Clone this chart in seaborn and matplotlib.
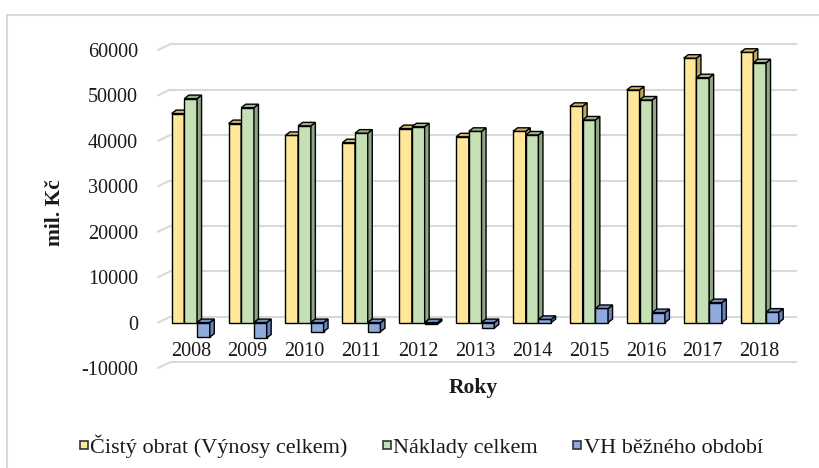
import matplotlib
matplotlib.use("Agg")
import matplotlib.pyplot as plt
from matplotlib.patches import Polygon, Rectangle
from matplotlib.lines import Line2D
import numpy as np
import pandas as pd
import seaborn as sns

# Data (mil. Kč)
years = ["2008", "2009", "2010", "2011", "2012", "2013", "2014", "2015", "2016", "2017", "2018"]
cisty_obrat = [46000, 43800, 41200, 39600, 42700, 40900, 42100, 47600, 51200, 58200, 59500]
naklady = [49300, 47300, 43300, 41700, 43100, 42100, 41300, 44600, 49000, 53900, 57200]
vh_obdobi = [-3200, -3400, -2000, -2000, -400, -1200, 700, 3100, 2200, 4400, 2300]

series_names = ["Čistý obrat (Výnosy celkem)", "Náklady celkem", "VH běžného období"]
y_ticks = [-10000, 0, 10000, 20000, 30000, 40000, 50000, 60000]

front_colors = ["#FFE699", "#C5E0B4", "#8FAADC"]
side_colors = ["#BFA95C", "#8FA683", "#6684BD"]
top_colors = ["#CDB66A", "#9DB58F", "#7391C9"]

df = pd.DataFrame({
    "Rok": years * 3,
    "Hodnota": cisty_obrat + naklady + vh_obdobi,
    "Řada": [series_names[0]] * len(years) + [series_names[1]] * len(years) + [series_names[2]] * len(years),
})

sns.set_theme(style="white")
plt.rcParams["font.family"] = ["Liberation Serif", "DejaVu Serif"]

W, H, DPI = 820, 468, 100
fig = plt.figure(figsize=(W / DPI, H / DPI), dpi=DPI)

# axes placed in pixel terms (front plane of the 3D box)
ax_l, ax_r, ax_t, ax_b = 158, 785, 50, 368
ax = fig.add_axes([ax_l / W, (H - ax_b) / H, (ax_r - ax_l) / W, (ax_b - ax_t) / H])

# outer chart frame
fig.patches.append(Rectangle((7 / W, -0.1), 1.2, (H - 15) / H + 0.1, transform=fig.transFigure,
                             fill=False, edgecolor="#D9D9D9", linewidth=1.5))

sns.barplot(data=df, x="Rok", y="Hodnota", hue="Řada", palette=front_colors, saturation=1,
            width=0.67, gap=0, edgecolor="black", linewidth=1.0, ax=ax, legend=False)

xlim = (-0.575, 10.445)
ylim = (-10000, 60000)
ax.set_xlim(*xlim)
ax.set_ylim(*ylim)

px_x = (ax_r - ax_l) / (xlim[1] - xlim[0])
px_y = (ax_b - ax_t) / (ylim[1] - ylim[0])

# back wall gridlines with depth offset
wall_dx, wall_dy = 12 / px_x, 5.7 / px_y
for yv in y_ticks:
    ax.plot([xlim[0] + wall_dx, xlim[1] + wall_dx], [yv + wall_dy, yv + wall_dy],
            color="#D9D9D9", linewidth=1.5, zorder=0.5, clip_on=False, solid_capstyle="butt")
    ax.plot([xlim[0], xlim[0] + wall_dx], [yv, yv + wall_dy],
            color="#D9D9D9", linewidth=1.5, zorder=0.5, clip_on=False)

# 3D side and top faces of each bar
bar_dx, bar_dy = 4.5 / px_x, 3.5 / px_y
for i, cont in enumerate(ax.containers):
    for rect in cont.patches:
        rect.set_zorder(2 + i)
        rect.set_clip_on(False)
        x0, w = rect.get_x(), rect.get_width()
        y0, h = rect.get_y(), rect.get_height()
        top, bot = max(y0, y0 + h), min(y0, y0 + h)
        side = Polygon([(x0 + w, bot), (x0 + w + bar_dx, bot + bar_dy),
                        (x0 + w + bar_dx, top + bar_dy), (x0 + w, top)],
                       closed=True, facecolor=side_colors[i], edgecolor="black",
                       linewidth=1.0, zorder=2 + i, joinstyle="miter", clip_on=False)
        cap = Polygon([(x0, top), (x0 + bar_dx, top + bar_dy),
                       (x0 + w + bar_dx, top + bar_dy), (x0 + w, top)],
                      closed=True, facecolor=top_colors[i], edgecolor="black",
                      linewidth=1.0, zorder=2 + i, joinstyle="miter", clip_on=False)
        ax.add_patch(side)
        ax.add_patch(cap)

for sp in ax.spines.values():
    sp.set_visible(False)
ax.spines["bottom"].set_position(("data", 0))
ax.set_yticks(y_ticks)
ax.set_yticklabels([str(v) for v in y_ticks])
ax.tick_params(axis="y", length=0, pad=14.4, labelsize=14.5, labelcolor="#1a1a1a")
ax.tick_params(axis="x", length=0, pad=14.0, labelsize=14.5, labelcolor="#1a1a1a")
ax.grid(False)
ax.set_facecolor("none")

ax.set_ylabel("mil. Kč", fontsize=15.5, fontweight="bold", color="#1a1a1a")
ax.yaxis.set_label_coords(55 / W, (H - 213) / H, transform=fig.transFigure)
ax.yaxis.label.set_verticalalignment("center")
ax.set_xlabel("Roky", fontsize=15.5, fontweight="bold", color="#1a1a1a")
ax.xaxis.set_label_coords(473 / W, (H - 388) / H, transform=fig.transFigure)
ax.xaxis.label.set_verticalalignment("center")

handles = [Line2D([], [], linestyle="none", marker="s", markersize=6.0,
                  markerfacecolor=c, markeredgecolor="#333333", markeredgewidth=1.2)
           for c in front_colors]
fig.legend(handles, series_names, loc="center", bbox_to_anchor=(421 / W, (H - 446) / H),
           ncol=3, frameon=False, fontsize=16, handlelength=0.4,
           handletextpad=0.1, columnspacing=1.55, borderaxespad=0, labelcolor="#1a1a1a")

fig.savefig("out.png", dpi=DPI)
